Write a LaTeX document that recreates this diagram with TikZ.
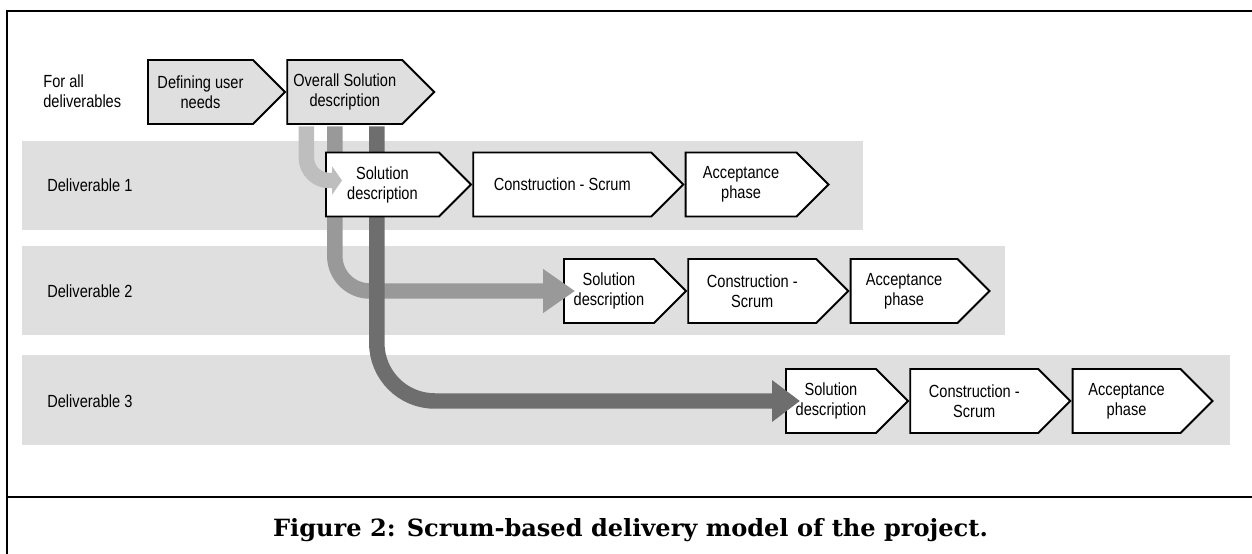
\documentclass[tikz,border=0pt]{standalone}
\usepackage{fontspec}
\setmainfont{Liberation Sans}[FakeStretch=0.83]
\newfontfamily\capfont{DejaVu Serif}
\usetikzlibrary{positioning,shapes.symbols,arrows.meta,calc}
\definecolor{bandgray}{HTML}{DFDFDF}
\definecolor{lightflow}{HTML}{BEBEBE}
\definecolor{midflow}{HTML}{999999}
\definecolor{darkflow}{HTML}{6E6E6E}
\tikzset{
	phase/.style = {signal, signal to=east, draw, line width=1.1pt, fill=white,
		align=center, minimum height=1.28cm, inner sep=1pt,
		font=\fontsize{10}{11.4}\selectfont},
	commonphase/.style = {phase, fill=bandgray},
	rowlabel/.style = {anchor=west, align=left, inner sep=0pt,
		font=\fontsize{10}{11.4}\selectfont},
	band/.style = {fill=bandgray},
	flow/.style = {line width=0.31cm, rounded corners=#1},
}

\begin{document}
\begin{tikzpicture}[x=0.02cm, y=-0.02cm, node distance=0pt]
\useasboundingbox (0,0) rectangle (1252,554);

% FRAME, BANDS
\draw [line width=1pt] (7,554) -- (7,11) -- (1252,11);
\draw [line width=1pt] (7,497) -- (1252,497);
\fill [band] (22,141) rectangle (863,230);
\fill [band] (22,246) rectangle (1005,335);
\fill [band] (22,355) rectangle (1230,445);

% NODES

% for all deliverables
\node (forall) [rowlabel] at (43,91) {For all\\deliverables};
\node (needs) [commonphase, minimum width=2.74cm, anchor=west] at (147,92) {Defining user\\needs};
\node (overall) [commonphase, minimum width=2.94cm, right=of needs] {Overall Solution\\description};

% deliverable 2, 3
\node (delB) [rowlabel] at (47,291) {Deliverable 2};
\node (solB) [phase, minimum width=2.44cm, anchor=west] at (563,291) {Solution\\description};
\node (conB) [phase, minimum width=3.2cm, right=of solB] {Construction -\\Scrum};
\node (accB) [phase, minimum width=2.78cm, right=of conB] {Acceptance\\phase};

\node (delC) [rowlabel] at (47,401) {Deliverable 3};
\node (solC) [phase, minimum width=2.44cm, anchor=west] at (785,401) {Solution\\description};
\node (conC) [phase, minimum width=3.2cm, right=of solC] {Construction -\\Scrum};
\node (accC) [phase, minimum width=2.8cm, right=of conC] {Acceptance\\phase};

%CONNECTIONS (under deliverable 1)
\draw [flow=0.7cm, midflow, -{Triangle[length=0.64cm, width=0.84cm]}]
	($(overall.west |- overall.south)+(48.5,1.5)$) |- ($(solB.west)+(12,0)$);
\draw [flow=1.16cm, darkflow, -{Triangle[length=0.56cm, width=0.8cm]}]
	($(overall.west |- overall.south)+(90.5,1.5)$) |- ($(solC.west)+(15,0)$);

% deliverable 1
\node (delA) [rowlabel] at (47,185) {Deliverable 1};
\node (solA) [phase, minimum width=2.9cm, anchor=west] at (325,184.5) {Solution\\description};
\node (conA) [phase, minimum width=4.2cm, right=of solA] {Construction - Scrum};
\node (accA) [phase, minimum width=2.86cm, right=of conA] {Acceptance\\phase};

\draw [flow=0.46cm, lightflow, -{Triangle[length=0.2cm, width=0.56cm]}]
	($(overall.west |- overall.south)+(20,1.5)$) |- ($(solA.west)+(17,-4)$);

% caption
\node (caption) [anchor=base] at (630.5,536) {\resizebox{14.3cm}{\height}{\capfont\bfseries\fontsize{13.5}{16}\selectfont Figure 2: Scrum-based delivery model of the project.}};

\end{tikzpicture}
\end{document}
